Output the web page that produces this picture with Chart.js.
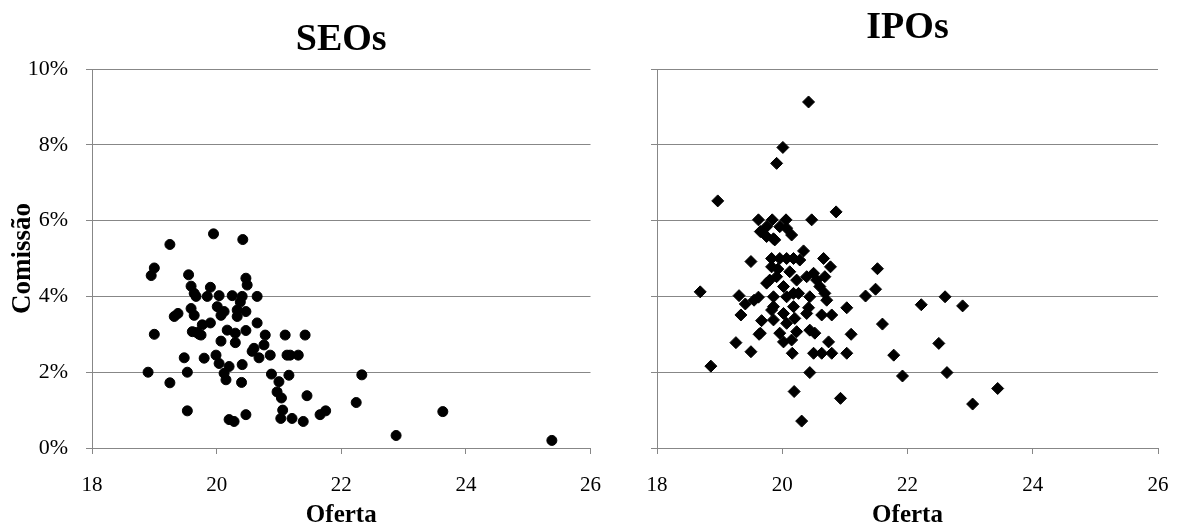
<!DOCTYPE html>
<html>
<head>
<meta charset="utf-8">
<script src="https://cdn.jsdelivr.net/npm/chart.js@4.4.1/dist/chart.umd.min.js"></script>
<style>
  html, body { margin: 0; padding: 0; background: #fff; }
  body { width: 1192px; height: 526px; position: relative; overflow: hidden; }
  .painel { position: absolute; top: 0; }
</style>
</head>
<body>
<div class="painel" style="left:0"><canvas id="seoChart" width="620" height="526"></canvas></div>
<div class="painel" style="left:620px"><canvas id="ipoChart" width="572" height="526"></canvas></div>
<script>
// Eixos (comuns aos dois gráficos)
const ofertaTicks = [18, 20, 22, 24, 26];
const comissaoTicks = [0, 2, 4, 6, 8, 10];

// SEOs: oferta (log) e comissão (%)
const seoOferta = [
  18.9, 18.95, 19.0, 19.0, 19.25, 19.25, 19.38, 19.32, 19.48, 19.53,
  19.53, 19.55, 19.59, 19.64, 19.59, 19.64, 19.61, 19.68, 19.75, 19.67,
  19.77, 19.9, 19.8, 19.9, 19.85, 19.95, 19.99, 20.01, 20.04, 20.04,
  20.07, 20.07, 20.12, 20.12, 20.15, 20.17, 20.2, 20.2, 20.28, 20.25,
  20.3, 20.3, 20.33, 20.33, 20.38, 20.41, 20.41, 20.4, 20.42, 20.47,
  20.49, 20.47, 20.47, 20.47, 20.57, 20.6, 20.65, 20.65, 20.68, 20.76,
  20.78, 20.86, 20.88, 21.0, 20.97, 21.04, 21.06, 21.03, 21.1, 21.13,
  21.16, 21.18, 21.21, 21.31, 21.39, 21.42, 21.45, 21.66, 21.75, 22.24,
  22.33, 22.88, 23.63, 25.38, 19.72
];
const seoComissao = [
  2.0, 4.55, 4.75, 3.0, 1.72, 5.37, 3.55, 3.47, 2.38, 2.0,
  0.98, 4.57, 4.27, 4.08, 3.68, 3.5, 3.07, 3.05, 2.98, 4.0,
  3.25, 3.3, 2.37, 4.24, 4.0, 5.65, 2.45, 3.73, 4.02, 2.23,
  3.5, 2.82, 3.6, 1.97, 1.8, 3.11, 2.15, 0.75, 0.7, 4.02,
  3.03, 2.78, 3.64, 3.47, 3.85, 4.0, 2.2, 1.73, 5.5, 4.48,
  4.3, 3.6, 3.1, 0.88, 2.55, 2.63, 4.0, 3.3, 2.38, 2.72,
  2.98, 2.45, 1.95, 1.75, 1.48, 1.32, 1.0, 0.78, 2.98, 2.45,
  1.92, 2.45, 0.78, 2.45, 0.7, 2.98, 1.38, 0.88, 0.98, 1.2,
  1.93, 0.33, 0.96, 0.2, 3.0
];

// IPOs
const ipoOferta = [
  20.42, 20.01, 19.91, 18.97, 20.86, 19.62, 19.84, 20.06, 20.47, 19.65,
  19.75, 19.86, 19.75, 19.96, 20.07, 20.15, 19.88, 20.34, 19.5, 19.83,
  19.96, 20.07, 20.18, 19.83, 19.93, 20.28, 20.66, 20.77, 21.52, 21.49,
  21.33, 22.22, 18.69, 19.31, 19.41, 19.62, 21.03, 19.75, 19.91, 20.02,
  20.23, 20.39, 20.5, 20.55, 20.6, 20.68, 20.71, 20.68, 20.18, 19.86,
  20.07, 20.26, 20.44, 19.86, 20.18, 20.42, 19.34, 19.67, 19.65, 19.26,
  19.5, 18.86, 19.96, 20.02, 20.15, 20.16, 19.83, 19.86, 20.02, 20.07,
  20.2, 20.23, 20.39, 20.44, 20.52, 20.63, 20.79, 20.74, 20.5, 20.63,
  20.79, 20.44, 20.19, 20.93, 20.31, 21.1, 21.03, 21.6, 21.78, 21.92,
  22.5, 22.6, 22.88, 22.63, 23.04, 23.44, 19.63, 19.8, 20.12, 19.55
];
const ipoComissao = [
  9.13, 7.93, 7.51, 6.52, 6.23, 6.02, 6.02, 6.02, 6.02, 5.71,
  5.84, 5.52, 5.58, 5.84, 5.8, 5.62, 5.49, 5.2, 4.92, 5.0,
  5.0, 5.0, 5.0, 4.78, 4.72, 4.96, 5.0, 4.78, 4.73, 4.19,
  4.01, 3.78, 4.12, 4.02, 3.8, 3.98, 3.7, 4.35, 4.52, 4.26,
  4.43, 4.52, 4.61, 4.43, 4.26, 4.08, 3.9, 4.52, 4.08, 3.99,
  3.99, 4.08, 3.99, 3.73, 3.73, 3.7, 3.51, 3.36, 3.03, 2.78,
  2.54, 2.16, 3.03, 2.8, 2.85, 2.5, 3.64, 3.38, 3.55, 3.29,
  3.42, 3.07, 3.55, 3.11, 3.03, 3.51, 3.51, 2.8, 2.5, 2.5,
  2.5, 1.99, 1.49, 1.31, 0.71, 3.0, 2.5, 3.27, 2.45, 1.9,
  2.76, 3.99, 3.75, 1.99, 1.16, 1.57, 3.0, 4.43, 4.65, 3.9
];

const FONTE = "'Liberation Serif', 'Times New Roman', serif";
const CINZA = '#878787';

function pares(xs, ys) {
  return xs.map((x, i) => ({ x: x, y: ys[i] }));
}

function criarGrafico(id, titulo, dados, opcoes) {
  const ctx = document.getElementById(id).getContext('2d');
  return new Chart(ctx, {
    type: 'scatter',
    data: {
      datasets: [{
        data: dados,
        pointStyle: opcoes.estilo,
        pointRadius: opcoes.raio,
        pointBorderWidth: 1,
        backgroundColor: '#000',
        borderColor: '#000'
      }]
    },
    options: {
      responsive: false,
      animation: false,
      layout: { padding: { left: 0, right: opcoes.direita, top: 0, bottom: 0 } },
      plugins: {
        legend: { display: false },
        tooltip: { enabled: false },
        title: {
          display: true,
          text: titulo,
          fullSize: false,
          color: '#000',
          font: { family: FONTE, size: 38, weight: 'bold', lineHeight: 1.2 },
          padding: opcoes.tituloPad
        }
      },
      scales: {
        x: {
          type: 'linear',
          min: 18, max: 26,
          afterBuildTicks: (axis) => { axis.ticks = ofertaTicks.map(v => ({ value: v })); },
          afterFit: (axis) => { axis.height = 78; },
          border: { display: true, color: CINZA, width: 1 },
          grid: { drawOnChartArea: false, drawTicks: true, tickLength: 6, color: CINZA },
          ticks: { color: '#000', padding: 19, font: { family: FONTE, size: 21 } },
          title: {
            display: true,
            text: 'Oferta',
            color: '#000',
            padding: 0,
            font: { family: FONTE, size: 25, weight: 'bold', lineHeight: 0.8 }
          }
        },
        y: {
          type: 'linear',
          min: 0, max: 10,
          afterBuildTicks: (axis) => { axis.ticks = comissaoTicks.map(v => ({ value: v })); },
          afterFit: (axis) => { axis.width = opcoes.larguraY; },
          border: { display: true, color: CINZA, width: 1 },
          grid: { drawOnChartArea: true, drawTicks: true, tickLength: 6, color: CINZA },
          ticks: {
            display: opcoes.rotulosY,
            color: '#000',
            padding: 18,
            font: { family: FONTE, size: 22 },
            callback: (v) => v + '%'
          },
          title: {
            display: opcoes.rotulosY,
            text: 'Comissão',
            color: '#000',
            padding: { top: 7, bottom: 0 },
            font: { family: FONTE, size: 27, weight: 'bold', lineHeight: 1.2 }
          }
        }
      }
    }
  });
}

document.addEventListener('DOMContentLoaded', function() {
  criarGrafico('seoChart', 'SEOs', pares(seoOferta, seoComissao), {
    estilo: 'circle', raio: 5, direita: 26, larguraY: 92, rotulosY: true,
    tituloPad: { top: 17, bottom: 6.4 }
  });
  criarGrafico('ipoChart', 'IPOs', pares(ipoOferta, ipoComissao), {
    estilo: 'rectRot', raio: 6, direita: 34, larguraY: 37, rotulosY: false,
    tituloPad: { top: 5.2, bottom: 18.2 }
  });
});
</script>
</body>
</html>
